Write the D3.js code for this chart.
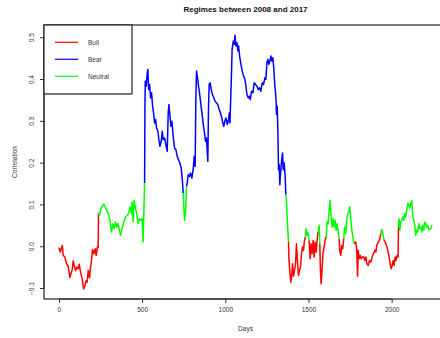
<!DOCTYPE html>
<html><head><meta charset="utf-8">
<script src="https://cdn.jsdelivr.net/npm/d3@7"></script>
<style>body{margin:0;background:#fff}svg{display:block}text{font-family:"Liberation Sans",Arial,sans-serif}</style>
</head><body>
<svg id="c" width="440" height="338"></svg>
<script>
// ---- data ----
const days = [0,8,20,26,36,46,56,66,72,80,86,92,100,108,116,122,130,140,148,156,164,170,176,184,190,196,202,210,218,224,232,236,
238,244,250,260,270,280,292,300,308,316,324,332,340,348,356,364,370,380,390,400,412,420,428,436,440,446,452,460,468,476,484,492,500,506,
515,517,519,525,531,535,539,545,551,557,563,569,575,581,587,595,601,607,615,621,627,635,643,651,657,661,667,673,679,687,695,703,711,719,727,735,741,
747,751,755,761,
767,771,777,785,791,799,807,813,819,823,827,833,839,845,851,857,863,869,875,881,887,891,895,899,903,909,915,923,931,939,947,955,963,971,979,985,991,997,1004,1012,1020,1024,1028,1034,1038,1041,1048,1054,1058,1064,1070,1076,1080,1086,1094,1102,1110,1118,1124,1130,1138,1144,1150,1158,1166,1174,1182,1190,1198,1206,1214,1222,1230,1238,1244,1250,1256,1262,1268,1274,1280,1286,1292,1298,1304,1308,1312,1316,1320,1324,1328,1332,1338,1344,1348,1354,1360,
1364,1368,1372,1376,
1380,1382,1388,1394,1400,1404,1410,1416,1422,1428,1434,1440,1446,1452,1458,1464,1470,1476,
1482,1486,1492,1498,
1504,1510,1516,1522,1528,1534,1540,1546,1552,
1558,1564,
1568,1572,1576,1582,1588,1594,1600,
1606,1612,1618,1624,1630,1636,1642,1648,1654,1660,1666,1672,1678,
1684,1688,1694,1700,1706,
1712,1718,1724,1730,1736,1742,1748,1754,1760,1770,
1776,1784,1790,1795,1799,1805,1811,1817,1825,1833,1839,1845,1851,1859,1867,1875,1883,1891,1899,1905,1911,1919,1927,
1935,1941,1947,
1953,1961,1969,1977,1985,1991,1997,2003,2009,2015,2021,2027,2033,2039,
2041,2045,2049,2055,2061,2067,2073,2079,2085,2091,2097,2103,2109,2115,2121,2127,2133,2139,2145,2151,2157,2163,2169,2175,2181,2187,2193,2199,2205,2211,2217,2223,2229,2235,2243];
const correlation = [-0.003,-0.014,0.002,-0.022,-0.026,-0.042,-0.048,-0.075,-0.066,-0.056,-0.035,-0.046,-0.058,-0.050,-0.054,-0.043,-0.062,-0.078,-0.102,-0.094,-0.082,-0.086,-0.058,-0.075,-0.050,-0.034,-0.008,-0.018,-0.006,-0.022,0.000,-0.003,
0.080,0.074,0.087,0.096,0.101,0.091,0.082,0.074,0.058,0.034,0.054,0.042,0.058,0.046,0.054,0.038,0.026,0.042,0.058,0.070,0.074,0.080,0.094,0.078,0.106,0.058,0.110,0.091,0.078,0.054,0.066,0.062,0.066,0.010,
0.151,0.327,0.395,0.383,0.415,0.423,0.375,0.387,0.355,0.367,0.335,0.319,0.295,0.303,0.283,0.275,0.255,0.239,0.251,0.275,0.255,0.259,0.243,0.227,0.319,0.339,0.315,0.287,0.299,0.263,0.235,0.231,0.215,0.207,0.199,0.187,0.163,
0.127,0.094,0.062,0.082,
0.143,0.151,0.171,0.167,0.175,0.163,0.183,0.215,0.191,0.351,0.419,0.403,0.383,0.367,0.347,0.327,0.307,0.287,0.271,0.251,0.259,0.231,0.203,0.327,0.387,0.391,0.375,0.363,0.355,0.347,0.343,0.339,0.327,0.319,0.307,0.295,0.287,0.299,0.307,0.291,0.303,0.319,0.295,0.371,0.423,0.471,0.491,0.483,0.505,0.479,0.487,0.467,0.479,0.455,0.435,0.419,0.407,0.399,0.383,0.363,0.355,0.359,0.351,0.371,0.367,0.391,0.387,0.383,0.375,0.379,0.371,0.391,0.387,0.403,0.399,0.439,0.447,0.435,0.443,0.455,0.443,0.451,0.423,0.383,0.359,0.315,0.335,0.279,0.183,0.195,0.147,0.175,0.203,0.223,0.183,0.199,0.167,
0.123,0.103,0.070,0.038,
0.010,-0.026,-0.062,-0.086,-0.066,-0.042,-0.072,-0.058,-0.042,0.006,-0.038,-0.070,-0.058,-0.050,-0.018,-0.002,-0.010,0.014,
0.022,0.042,0.026,0.032,
0.014,-0.030,0.006,-0.018,0.014,-0.026,0.010,-0.014,0.014,
0.034,0.050,
0.006,-0.058,-0.090,-0.054,-0.014,-0.002,0.014,
0.022,0.058,0.054,0.082,0.110,0.070,0.046,0.066,0.046,0.062,0.038,0.054,0.034,
0.018,-0.010,-0.022,0.002,-0.006,
0.018,0.046,0.030,0.062,0.078,0.082,0.094,0.070,0.040,0.014,
0.006,0.010,-0.006,-0.072,-0.010,-0.030,-0.022,-0.030,-0.026,-0.026,-0.034,-0.026,-0.042,-0.046,-0.034,-0.038,-0.026,-0.018,-0.010,-0.014,0.002,0.010,0.014,
0.030,0.040,0.030,
0.016,0.010,0.002,-0.010,-0.026,-0.042,-0.054,-0.046,-0.034,-0.046,-0.026,-0.034,-0.022,-0.026,
0.046,0.066,0.038,0.058,0.062,0.070,0.062,0.078,0.070,0.087,0.103,0.099,0.091,0.103,0.109,0.070,0.062,0.050,0.026,0.038,0.034,0.054,0.042,0.046,0.034,0.050,0.038,0.058,0.054,0.046,0.050,0.040,0.040,0.042,0.050];
// regime starts (day where each regime begins) and their labels
const regimeStart = [0,238,515,747,767,1364,1380,1482,1504,1558,1568,1606,1684,1712,1776,1935,1953,2041];
const regimeName  = ["Bull","Neutral","Bear","Neutral","Bear","Neutral","Bull","Neutral","Bull","Neutral","Bull","Neutral","Bull","Neutral","Bull","Neutral","Bull","Neutral"];
const regimes = ["Bull","Bear","Neutral"];
const regimeColors = ["#FF0000","#0000FF","#00FF00"];
const xTicks = [0,500,1000,1500,2000];
const yTicks = [-0.1,0.0,0.1,0.2,0.3,0.4,0.5];
const titleText = "Regimes between 2008 and 2017";

// ---- drawing ----
const svg = d3.select("#c");
const L=44, R=447, T=25, B=299;
const xe = d3.extent(days), ye = d3.extent(correlation);
const xp = (xe[1]-xe[0])*0.04, yp = (ye[1]-ye[0])*0.04;
const x = d3.scaleLinear().domain([xe[0]-xp, xe[1]+xp]).range([L,R]);
const y = d3.scaleLinear().domain([ye[0]-yp, ye[1]+yp]).range([B,T]);
const color = d3.scaleOrdinal().domain(regimes).range(regimeColors);

const pts = days.map((d,i)=>({d, v:correlation[i], r: regimeName[d3.bisectRight(regimeStart,d)-1]}));
// runs: each run goes from its first point to the first point of the next run
const runs=[];
pts.forEach((p,i)=>{
  if(i===0 || p.r!==pts[i-1].r){ if(runs.length) runs[runs.length-1].pts.push(p); runs.push({r:p.r, pts:[p]}); }
  else runs[runs.length-1].pts.push(p);
});
const line = d3.line().x(p=>x(p.d)).y(p=>y(p.v));
svg.append("g").selectAll("path").data(runs).join("path")
  .attr("d",r=>line(r.pts)).attr("fill","none")
  .attr("stroke",r=>color(r.r)).attr("stroke-width",1.5).attr("stroke-linejoin","round");

// axes (R style: axis line spans first to last tick)
const xa = svg.append("g").attr("transform",`translate(0,${B})`)
  .call(d3.axisBottom(x).tickValues(xTicks).tickSize(4).tickSizeOuter(0).tickPadding(4).tickFormat(d3.format("d")));
xa.select(".domain").attr("d",`M${x(xTicks[0])},0H${x(xTicks[xTicks.length-1])}`);
const ya = svg.append("g").attr("transform",`translate(${L},0)`)
  .call(d3.axisLeft(y).tickValues(yTicks).tickSize(4).tickSizeOuter(0).tickPadding(0).tickFormat(d3.format(".1f")));
ya.select(".domain").attr("d",`M0,${y(yTicks[0])}V${y(yTicks[yTicks.length-1])}`);
[xa,ya].forEach(g=>{
  g.selectAll("path").attr("stroke","#333");
  g.selectAll("line").attr("stroke","#333");
  g.selectAll("text").attr("fill","#333").style("font-size","6.5px").style("font-family","'Liberation Sans',Arial,sans-serif");
});
ya.selectAll(".tick text").attr("transform","rotate(-90)").attr("x",0).attr("y",-12)
  .attr("dy","0.35em").attr("text-anchor","middle");
// plot box
svg.append("rect").attr("x",L).attr("y",T).attr("width",R-L+6).attr("height",B-T)
  .attr("fill","none").attr("stroke","#222").attr("stroke-width",1.2);

// title and labels
svg.append("text").attr("x",(L+R)/2).attr("y",12).attr("text-anchor","middle")
  .style("font-size","8px").style("font-weight","bold").attr("fill","#111").text(titleText);
svg.append("text").attr("x",(L+R)/2).attr("y",331).attr("text-anchor","middle")
  .style("font-size","6.5px").attr("fill","#333").text("Days");
svg.append("text").attr("transform",`translate(17,${(T+B)/2}) rotate(-90)`).attr("text-anchor","middle")
  .style("font-size","6.5px").attr("fill","#333").text("Correlation");

// legend
const lg = svg.append("g");
lg.append("rect").attr("x",L).attr("y",T).attr("width",88).attr("height",69)
  .attr("fill","#fff").attr("stroke","#222").attr("stroke-width",1.2);
regimes.forEach((r,i)=>{
  const yy = 42.3 + i*17;
  lg.append("line").attr("x1",55).attr("x2",78).attr("y1",yy).attr("y2",yy)
    .attr("stroke",color(r)).attr("stroke-width",1.2);
  lg.append("text").attr("x",88).attr("y",yy).attr("dy","0.35em")
    .style("font-size","6.5px").attr("fill","#333").text(r);
});
</script>
</body></html>
